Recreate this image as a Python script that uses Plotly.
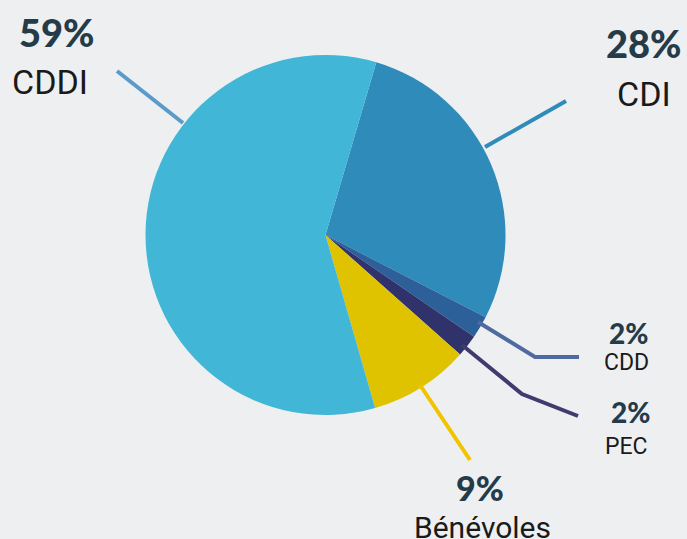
import plotly.graph_objects as go

W, H = 687, 539

labels = ["CDI", "CDD", "PEC", "Bénévoles", "CDDI"]
values = [28, 2, 2, 9, 59]
colors = ["#2e8bba", "#2d5f99", "#30336b", "#dfc300", "#41b6d6"]
pct_text = ["28%", "2%", "2%", "9%", "59%"]

def px(x):
    return x / W

def py(y):
    return 1 - y / H

fig = go.Figure()
fig.add_trace(go.Pie(
    labels=labels, values=values, sort=False, direction="clockwise",
    rotation=16.4, marker=dict(colors=colors, line=dict(width=0)),
    textinfo="none", hoverinfo="label+percent", showlegend=False,
    domain=dict(x=[px(145.5), px(505.5)], y=[py(415), py(55)]),
))

# leader lines (pixel points) and label placement
leaders = {
    "CDDI": ([(117, 71), (183, 123)], "#5b9bc9"),
    "CDI": ([(485, 147), (566, 101)], "#2e8bba"),
    "CDD": ([(478, 322), (535, 357), (579, 357)], "#4f6aa1"),
    "PEC": ([(462, 345), (522, 394), (578, 416)], "#3f3a6f"),
    "Bénévoles": ([(420, 385), (470, 460)], "#f0c400"),
}
label_pos = {
    "CDDI": ((57, 32, 38), (50, 82, 34)),
    "CDI": ((644, 43, 38), (644, 94, 34)),
    "CDD": ((628, 333, 28), (626, 362, 23)),
    "PEC": ((630, 412, 28), (626, 446, 23)),
    "Bénévoles": ((480, 487, 34), (482, 527, 30)),
}

for name, (pts, col) in leaders.items():
    path = "M " + " L ".join(f"{px(x)},{py(y)}" for x, y in pts)
    fig.add_shape(type="path", path=path, xref="paper", yref="paper",
                  line=dict(color=col, width=4))

for name, pct in zip(labels, pct_text):
    (x1, y1, s1), (x2, y2, s2) = label_pos[name]
    fig.add_annotation(x=px(x1), y=py(y1), xref="paper", yref="paper", text=pct,
                       showarrow=False, xanchor="center", yanchor="middle",
                       font=dict(family="Lato", size=s1, color="#243b4a", weight=900))
    fig.add_annotation(x=px(x2), y=py(y2), xref="paper", yref="paper", text=name,
                       showarrow=False, xanchor="center", yanchor="middle",
                       font=dict(family="Roboto", size=s2, color="#1a1a1a"))

fig.update_layout(width=W, height=H, margin=dict(l=0, r=0, t=0, b=0),
                  paper_bgcolor="#eeeff1", plot_bgcolor="#eeeff1")
fig.write_html("out.html", config={"displayModeBar": False},
               post_script="document.body.style.margin='0';"
                           "document.body.style.background='#eeeff1';")
